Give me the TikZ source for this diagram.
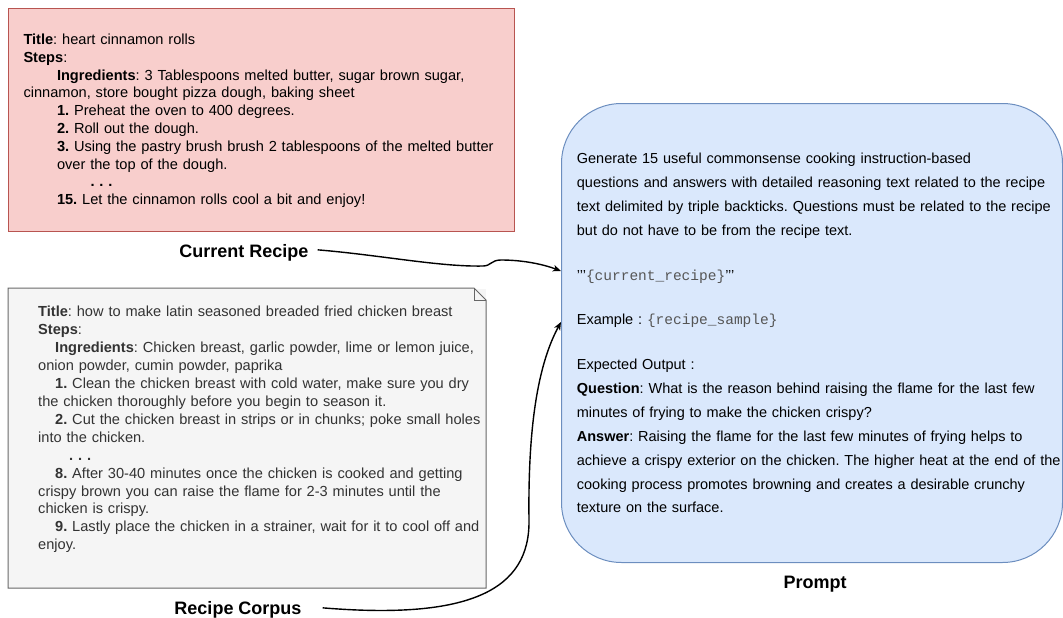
\documentclass[tikz,border=0pt]{standalone}
\usepackage{fontspec}
\setmainfont{Liberation Sans}
\setmonofont{Liberation Mono}
\usetikzlibrary{arrows.meta}
\frenchspacing
\definecolor{redfill}{HTML}{F8CECC}
\definecolor{redline}{HTML}{B85450}
\definecolor{grayfill}{HTML}{F5F5F5}
\definecolor{grayline}{HTML}{666666}
\definecolor{graytext}{HTML}{333333}
\definecolor{bluefill}{HTML}{DAE8FC}
\definecolor{blueline}{HTML}{6C8EBF}
\definecolor{monotext}{HTML}{555555}
\newcommand{\sq}{\symbol{39}\symbol{39}\symbol{39}}
\tikzset{
  boxshape/.style={rectangle, inner sep=0pt, anchor=north west, line width=1pt},
  bodytext/.style={anchor=base west, inner sep=0pt, text width=540pt, align=left,
    font=\fontsize{14.6}{17.8}\selectfont},
  labeltext/.style={anchor=base, inner sep=0pt, font=\fontsize{18}{21}\selectfont\bfseries},
  conn/.style={line width=1.4pt, -{Stealth[length=8pt,width=6.5pt,inset=2pt]}},
}
\begin{document}
\begin{tikzpicture}[x=1pt,y=-1pt]
\useasboundingbox (0,0) rectangle (1063,618);

% Current recipe box
\node[boxshape, draw=redline, fill=redfill, minimum width=506pt, minimum height=223pt] (curbox) at (8,8) {};
\node[bodytext] (curtext) at (23.3,44.5) {\frenchspacing%
\textbf{Title}: heart cinnamon rolls\\
\textbf{Steps}:\\
\hspace*{33.5pt}\textbf{Ingredients}: 3 Tablespoons melted butter, sugar brown sugar,\\
cinnamon, store bought pizza dough, baking sheet\\
\hspace*{33.5pt}\textbf{1.} Preheat the oven to 400 degrees.\\
\hspace*{33.5pt}\textbf{2.} Roll out the dough.\\
\hspace*{33.5pt}\textbf{3.} Using the pastry brush brush 2 tablespoons of the melted butter\\
\hspace*{33.5pt}over the top of the dough.\\
\hspace*{67pt}\textbf{.\,\,.\,\,.}\\
\hspace*{33.5pt}\textbf{15.} Let the cinnamon rolls cool a bit and enjoy!};

% Recipe corpus note
\node[boxshape, fill=grayfill, minimum width=477pt, minimum height=299pt] (corpusbox) at (8,288) {};
\draw[grayline, line width=1pt]
  (corpusbox.north west) -- ([xshift=-12pt]corpusbox.north east) -- ([yshift=-12pt]corpusbox.north east)
  -- (corpusbox.south east) -- (corpusbox.south west) -- cycle;
\draw[grayline, line width=1pt]
  ([xshift=-12pt]corpusbox.north east) -- ([xshift=-12pt,yshift=-12pt]corpusbox.north east) -- ([yshift=-12pt]corpusbox.north east);
\node[bodytext, text=graytext, font=\fontsize{14.6}{17.95}\selectfont] (corpustext) at (38,316.5) {\frenchspacing%
\textbf{Title}: how to make latin seasoned breaded fried chicken breast\\
\textbf{Steps}:\\
\hspace*{17pt}\textbf{Ingredients}: Chicken breast, garlic powder, lime or lemon juice,\\
onion powder, cumin powder, paprika\\
\hspace*{17pt}\textbf{1.} Clean the chicken breast with cold water, make sure you dry\\
the chicken thoroughly before you begin to season it.\\
\hspace*{17pt}\textbf{2.} Cut the chicken breast in strips or in chunks; poke small holes\\
into the chicken.\\
\hspace*{31pt}\textbf{.\,\,.\,\,.}\\
\hspace*{17pt}\textbf{8.} After 30-40 minutes once the chicken is cooked and getting\\
crispy brown you can raise the flame for 2-3 minutes until the\\
chicken is crispy.\\
\hspace*{17pt}\textbf{9.} Lastly place the chicken in a strainer, wait for it to cool off and\\
enjoy.};

% Prompt box
\node[boxshape, draw=blueline, fill=bluefill, rounded corners=60pt, minimum width=501pt, minimum height=459pt] (prompt) at (561,103) {};
\node[bodytext, font=\fontsize{14.5}{24}\selectfont] (prompttext) at (576.7,163) {\frenchspacing%
Generate 15 useful commonsense cooking instruction-based\\
questions and answers with detailed reasoning text related to the recipe\\
text delimited by triple backticks. Questions must be related to the recipe\\
but do not have to be from the recipe text.\\[21pt]
\sq{\color{monotext}\ttfamily\{current\_recipe\}}\sq\\[20pt]
Example : {\color{monotext}\ttfamily\{recipe\_sample\}}\\[21pt]
Expected Output :\\
\textbf{Question}: What is the reason behind raising the flame for the last few\\
minutes of frying to make the chicken crispy?\\
\textbf{Answer}: Raising the flame for the last few minutes of frying helps to\\
achieve a crispy exterior on the chicken. The higher heat at the end of the\\
cooking process promotes browning and creates a desirable crunchy\\
texture on the surface.};

% Labels
\node[labeltext] (curlabel) at (244,257.5) {Current Recipe};
\node[labeltext] (corpuslabel) at (238,614.5) {Recipe Corpus};
\node[labeltext] (promptlabel) at (815,588.5) {Prompt};

% Connector end points on the prompt box
\coordinate (inone) at (561,271);
\coordinate (intwo) at (561,322);

\draw[conn] ([xshift=9pt,yshift=3pt]curlabel.east)
  .. controls (380,255) and (440,267) .. (483,266)
  .. controls (491,266) and (491,260) .. (501,260)
  .. controls (525,260) and (545,265) .. (inone);
\draw[conn] ([xshift=21pt,yshift=2pt]corpuslabel.east)
  .. controls (470,620) and (530,590) .. (529,520)
  .. controls (528,440) and (535,370) .. (intwo);
\end{tikzpicture}
\end{document}
